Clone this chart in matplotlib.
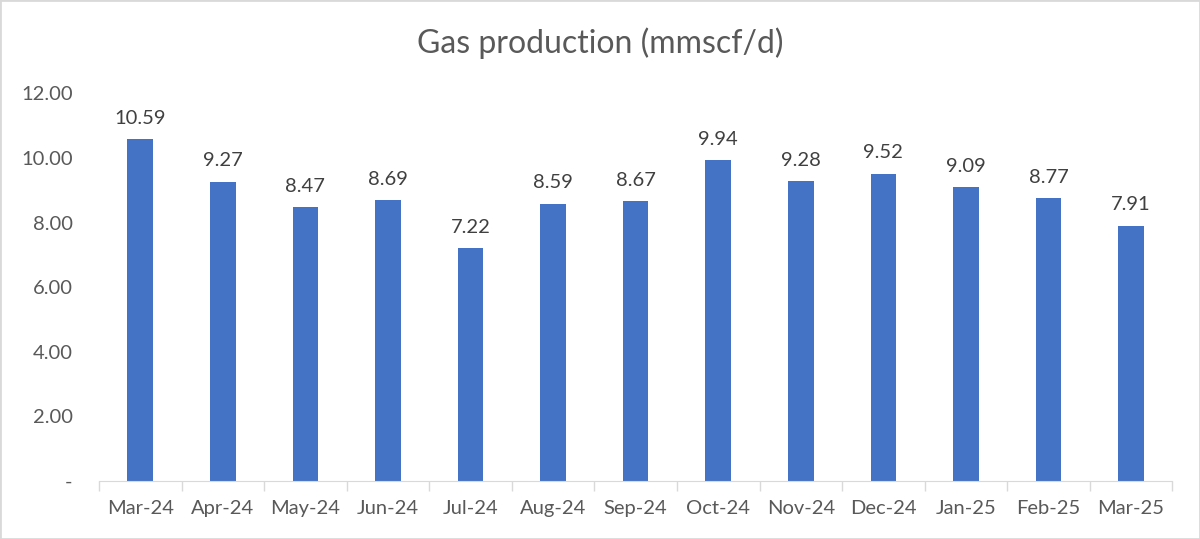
import matplotlib.pyplot as plt
import numpy as np

months = ["Mar-24", "Apr-24", "May-24", "Jun-24", "Jul-24", "Aug-24", "Sep-24",
          "Oct-24", "Nov-24", "Dec-24", "Jan-25", "Feb-25", "Mar-25"]
production = [10.59, 9.27, 8.47, 8.69, 7.22, 8.59, 8.67, 9.94, 9.28, 9.52, 9.09, 8.77, 7.91]
y_ticks = [0, 2, 4, 6, 8, 10, 12]
y_labels = ["-", "2.00", "4.00", "6.00", "8.00", "10.00", "12.00"]

text_color = "#595959"
plt.rcParams['font.family'] = ['Lato', 'DejaVu Sans']

fig = plt.figure(figsize=(12, 5.39), dpi=100)
fig.patches.append(plt.Rectangle((0, 0), 1, 1, transform=fig.transFigure,
                                 fill=False, edgecolor="#d9d9d9", linewidth=2))
ax = fig.add_axes([0.0825, 0.1076, 0.8945, 0.719])

x = np.arange(len(months))
bars = ax.bar(x, production, width=0.31, color="#4472c4")
for xi, v in zip(x, production):
    ax.text(xi, v + 0.38, f"{v:.2f}", ha="center", va="bottom", fontsize=14.5, color="#404040")

ax.set_xlim(-0.5, len(months) - 0.5)
ax.set_ylim(0, 12)
ax.set_yticks(y_ticks)
ax.set_yticklabels(y_labels)
ax.set_xticks(x)
ax.set_xticklabels(months)
ax.set_xticks(np.arange(-0.5, len(months)), minor=True)
ax.tick_params(axis="x", which="major", length=0, pad=14, labelsize=14.5, labelcolor=text_color)
ax.tick_params(axis="x", which="minor", length=7, color="#d9d9d9", width=1)
ax.tick_params(axis="y", length=0, pad=19, labelsize=14.5, labelcolor=text_color)
for s in ["top", "right", "left"]:
    ax.spines[s].set_visible(False)
ax.spines["bottom"].set_color("#d9d9d9")

fig.text(0.5, 0.92, "Gas production (mmscf/d)", ha="center", va="center",
         fontsize=23, color=text_color)

fig.savefig("out.png", dpi=100)
